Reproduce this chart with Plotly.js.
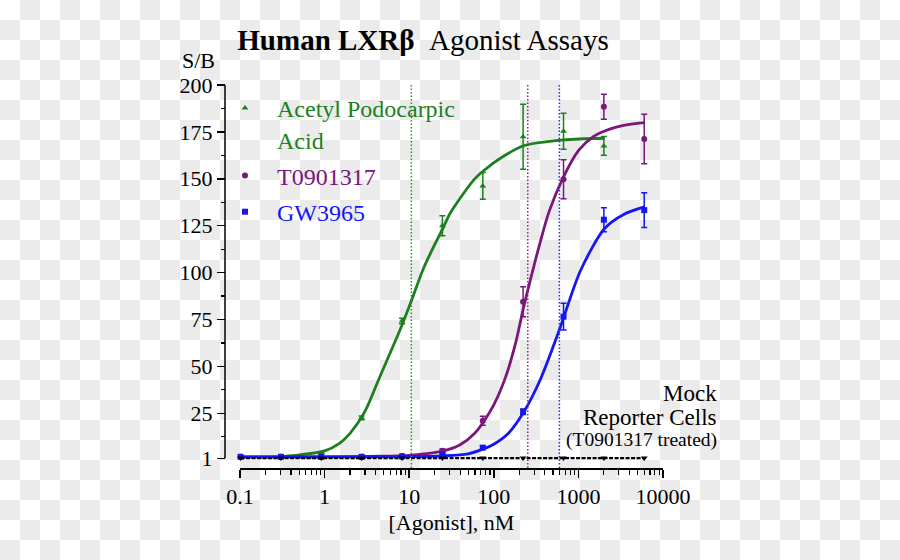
<!DOCTYPE html>
<html>
<head>
<meta charset="utf-8">
<script src="https://cdn.plot.ly/plotly-3.0.1.min.js"></script>
<style>
html, body { margin:0; padding:0; }
body {
  width:900px; height:560px; overflow:hidden;
  background: repeating-conic-gradient(#ebebeb 0 25%, #ffffff 0 50%) 0 0 / 40px 40px;
}
#chart { width:900px; height:560px; }
</style>
</head>
<body>
<div id="chart"></div>
<script>
// ---- data ----
const doses = [0.1016, 0.305, 0.914, 2.74, 8.23, 24.7, 74.1, 222, 667, 2000, 6000];

const apaDoses = [0.305, 0.914, 2.74, 8.23, 24.7, 74.1, 222, 667, 2000];
const apaMean  = [1.8, 4, 22.6, 74.2, 125, 146.2, 172.4, 175.3, 167.5];
const apaErr   = [0, 0.5, 1, 1.5, 5.3, 7.1, 17.3, 9.6, 5];

const t09Mean = [1.8, 1.8, 1.8, 1.8, 2.2, 5, 21, 84.5, 149.7, 188.4, 171.2];
const t09Err  = [0, 0, 0, 0, 0, 1, 2.4, 8, 10.4, 6.7, 13.2];

const gwMean  = [1.8, 1.8, 1.8, 1.8, 2, 3, 6.7, 25.8, 76.5, 128.2, 133.3];
const gwErr   = [0, 0, 0, 0, 0, 0.5, 0.8, 1.5, 7.1, 6.4, 9.3];

const mockMean = [1.1, 1.1, 1.1, 1.1, 1.1, 1.1, 1.1, 1.1, 1.1, 1.1, 1.1];

// fitted curves as drawn in the reference
const apaCurveX = [0.3, 0.5, 1, 1.5, 2, 3, 4.5, 7.8, 10.7, 15, 25.5, 30.5, 57.7, 75.7, 130, 225, 667, 2040];
const apaCurveY = [1.8, 2.8, 5, 9, 14.3, 26, 44.5, 69.5, 85.4, 103, 124.4, 131.6, 149.3, 154.3, 162, 167.6, 170.7, 171.6];

const t09CurveX = [0.1, 1, 5, 10, 15, 24.7, 40, 60, 75.7, 100, 137, 180, 225, 260, 300, 350, 450, 667, 1000, 1500, 2040, 3400, 6000];
const t09CurveY = [1.8, 1.8, 2.1, 2.6, 3.3, 4.8, 8.2, 14.5, 20.5, 29.5, 44, 62, 81.5, 93, 104, 115.5, 132.5, 151, 165, 172.5, 175.5, 178.5, 180];

const gwCurveX = [0.1, 1, 10, 24.7, 50, 75.7, 100, 150, 225, 355, 596, 1057, 2040, 3428, 6000];
const gwCurveY = [1.8, 1.8, 1.9, 2.3, 3.4, 6, 8.5, 14.5, 25.5, 43, 69.5, 101, 123.5, 131, 135];

const ec50 = [10.6, 252, 596];

const xTickVals = [0.1, 1, 10, 100, 1000, 10000];
const xTickText = ['0.1', '1', '10', '100', '1000', '10000'];
const yTickVals = [1, 25, 50, 75, 100, 125, 150, 175, 200];
const yTickText = ['1', '25', '50', '75', '100', '125', '150', '175', '200'];
const yMinorVals = [12.5, 37.5, 62.5, 87.5, 112.5, 137.5, 162.5, 187.5];

// ---- styles ----
const GREEN = '#1e7f1e';
const PURPLE = '#7a177a';
const BLUE = '#1515f5';
const FONT = "'Liberation Serif', 'Times New Roman', serif";

const xMinor = [];
for (let d = 0.1; d < 10000; d *= 10) {
  for (let k = 2; k <= 9; k++) xMinor.push(+(d * k).toPrecision(3));
}

const curve = (x, y, c) => ({
  x: x, y: y, type: 'scatter', mode: 'lines', showlegend: false, hoverinfo: 'skip',
  line: { color: c, width: 2.8, shape: 'spline', smoothing: 0.8 }
});
const pts = (x, y, e, c, sym, name, grp) => ({
  x: x, y: y, type: 'scatter', mode: 'markers', name: name, legendgroup: grp, cliponaxis: false,
  marker: { color: c, symbol: sym, size: 6 },
  error_y: { type: 'data', array: e, color: c, thickness: 1.5, width: 3 }
});

const traces = [
  curve(apaCurveX, apaCurveY, GREEN),
  curve(t09CurveX, t09CurveY, PURPLE),
  curve(gwCurveX, gwCurveY, BLUE),
  pts(apaDoses, apaMean, apaErr, GREEN, 'triangle-up',
      '<span style="color:' + GREEN + '">Acetyl Podocarpic<br>Acid</span>', 'g1'),
  pts(doses, t09Mean, t09Err, PURPLE, 'circle',
      '<span style="color:' + PURPLE + '">T0901317</span>', 'g2'),
  pts(doses, gwMean, gwErr, BLUE, 'square',
      '<span style="color:' + BLUE + '">GW3965</span>', 'g3'),
  {
    x: doses, y: mockMean, type: 'scatter', mode: 'lines+markers', showlegend: false,
    cliponaxis: false,
    line: { color: '#000', width: 2.2, dash: '4px,1.5px' },
    marker: { color: '#000', symbol: 'triangle-down', size: 6 }
  }
];

const ec50Colors = ['#229a22', '#8a2a8a', '#2a2aff'];
const shapes = ec50.map((v, i) => ({
  type: 'line', xref: 'x', yref: 'paper', x0: v, x1: v,
  y0: (560 - 468) / 560, y1: (560 - 83) / 560,
  line: { color: ec50Colors[i], width: 1.5, dash: '1.5px,2px' }
}));
// y-axis line, running from the "1" tick to the "200" tick
shapes.push({
  type: 'line', xref: 'paper', yref: 'y', x0: 225 / 900, x1: 225 / 900,
  y0: yTickVals[0], y1: yTickVals[yTickVals.length - 1],
  line: { color: '#000', width: 1.5 }
});

const ann = (text, x, y, size, xanchor) => ({
  text: text, xref: 'paper', yref: 'paper', x: x / 900, y: (560 - y) / 560,
  xanchor: xanchor, yanchor: 'middle', showarrow: false,
  font: { family: FONT, size: size, color: '#000' }
});

// y: value 1 sits at 458.3px, value 200 at 85px; plot area extends down to the x-axis line (468px)
const pxPerUnit = (458.3 - 85) / 199;
const yLow = 1 - (468 - 458.3) / pxPerUnit;

const layout = {
  width: 900, height: 560,
  margin: { l: 0, r: 0, t: 0, b: 0 },
  paper_bgcolor: 'rgba(0,0,0,0)', plot_bgcolor: 'rgba(0,0,0,0)',
  font: { family: FONT, size: 22, color: '#000' },
  title: {
    text: '<b>Human LXRβ</b>  Agonist Assays',
    x: 423 / 900, xanchor: 'center', y: (560 - 40) / 560, yanchor: 'middle',
    font: { family: FONT, size: 29, color: '#000' }
  },
  showlegend: true,
  legend: {
    x: 213 / 900, y: (560 - 86) / 560, xanchor: 'left', yanchor: 'top',
    bgcolor: 'rgba(0,0,0,0)', borderwidth: 0, valign: 'top', traceorder: 'grouped',
    font: { family: FONT, size: 24 }, itemwidth: 54, tracegroupgap: 2
  },
  xaxis: {
    type: 'log', range: [-1, 4], domain: [240 / 900, 663 / 900],
    anchor: 'free', position: (560 - 468) / 560,
    showline: true, linecolor: '#000', linewidth: 1.5,
    ticks: 'outside', ticklen: 8, tickwidth: 1.5, tickcolor: '#000',
    tickmode: 'array', tickvals: xTickVals, ticktext: xTickText,
    tickfont: { family: FONT, size: 22 },
    minor: { tickmode: 'array', tickvals: xMinor, ticks: 'outside', ticklen: 5, tickwidth: 1.2, tickcolor: '#000' },
    showgrid: false, zeroline: false,
    title: { text: '[Agonist], nM', font: { family: FONT, size: 22 }, standoff: 6 }
  },
  yaxis: {
    range: [yLow, 200], domain: [(560 - 468) / 560, (560 - 85) / 560],
    anchor: 'free', position: 225 / 900,
    showline: false,
    ticks: 'outside', ticklen: 8, tickwidth: 1.5, tickcolor: '#000',
    tickmode: 'array', tickvals: yTickVals, ticktext: yTickText,
    tickfont: { family: FONT, size: 22 },
    minor: { tickmode: 'array', tickvals: yMinorVals, ticks: 'outside', ticklen: 4, tickwidth: 1.2, tickcolor: '#000' },
    showgrid: false, zeroline: false
  },
  shapes: shapes,
  annotations: [
    ann('S/B', 198, 61, 22, 'center'),
    ann('Mock', 719, 393, 23, 'right'),
    ann('Reporter Cells', 719, 417, 23, 'right'),
    ann('(T0901317 treated)', 719, 440, 19.5, 'right')
  ]
};

Plotly.newPlot('chart', traces, layout, { displayModeBar: false, staticPlot: true });
</script>
</body>
</html>
